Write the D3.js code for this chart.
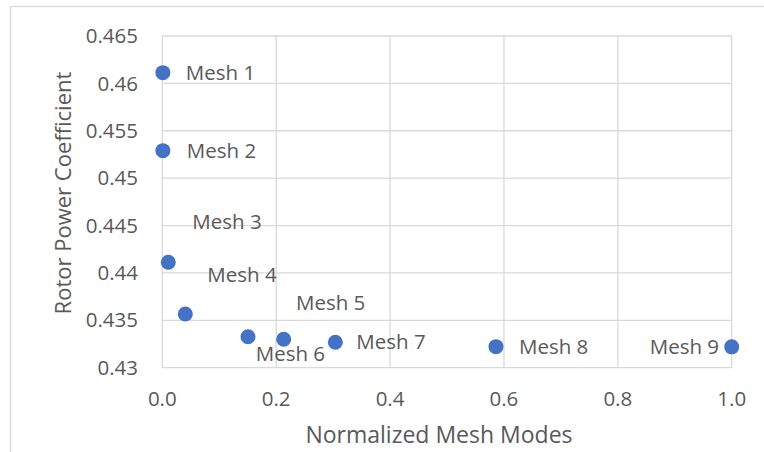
<!DOCTYPE html>
<html><head><meta charset="utf-8">
<script src="https://cdn.jsdelivr.net/npm/d3@7"></script>
<style>body{margin:0;background:#fff}svg{display:block}text{font-family:"Open Sans","Liberation Sans",Arial,sans-serif;fill:#595959}</style>
</head><body>
<script>
const labels = ["Mesh 1","Mesh 2","Mesh 3","Mesh 4","Mesh 5","Mesh 6","Mesh 7","Mesh 8","Mesh 9"];
const xValues = [0.001, 0.001, 0.0105, 0.0404, 0.1505, 0.2132, 0.3039, 0.586, 1.0];
const yValues = [0.46113, 0.4529, 0.44112, 0.43567, 0.43327, 0.4330, 0.43268, 0.43222, 0.43220];
const xTicks = [0, 0.2, 0.4, 0.6, 0.8, 1.0];
const yTicks = [0.43, 0.435, 0.44, 0.445, 0.45, 0.455, 0.46, 0.465];
// label offsets (Excel data label placement), in px relative to the point
const labelDx = [23, 24, 24, 22, 48, -28, 21, 23, -82];
const labelDy = [0, 0, -40, -39, -34, 15, 0, 0, 0];

const W = 764, H = 452;
const svg = d3.select("body").append("svg").attr("width", W).attr("height", H);
svg.append("rect").attr("x",10.5).attr("y",6.5).attr("width",W).attr("height",H)
  .attr("fill","none").attr("stroke","#d9d9d9").attr("stroke-width",1.3);

const x = d3.scaleLinear().domain([0,1]).range([162.3, 731.7]);
const y = d3.scaleLinear().domain([0.43,0.465]).range([367.7, 36]);

const g = svg.append("g");
g.selectAll("line.vg").data(xTicks).join("line").attr("class","vg")
  .attr("x1",d=>x(d)).attr("x2",d=>x(d)).attr("y1",y(0.465)).attr("y2",y(0.43))
  .attr("stroke","#d9d9d9").attr("stroke-width",1.3);
g.selectAll("line.hg").data(yTicks).join("line").attr("class","hg")
  .attr("x1",x(0)).attr("x2",x(1)).attr("y1",d=>y(d)).attr("y2",d=>y(d))
  .attr("stroke","#d9d9d9").attr("stroke-width",1.3);

const fmtY = d => String(+d.toFixed(3));
g.selectAll("text.yt").data(yTicks).join("text").attr("class","yt")
  .attr("x",138).attr("y",d=>y(d)).attr("dy","0.35em").attr("text-anchor","end")
  .attr("font-size",20.5).text(fmtY);
g.selectAll("text.xt").data(xTicks).join("text").attr("class","xt")
  .attr("x",d=>x(d)).attr("y",399).attr("dy","0.35em").attr("text-anchor","middle")
  .attr("font-size",20.5).text(d=>d.toFixed(1));

svg.append("text").attr("x",439).attr("y",435).attr("dy","0.35em").attr("text-anchor","middle")
  .attr("font-size",23).text("Normalized Mesh Modes");
svg.append("text").attr("transform","translate(63,193) rotate(-90)").attr("dy","0.35em")
  .attr("text-anchor","middle").attr("font-size",22).text("Rotor Power Coefficient");

const pts = labels.map((l,i)=>({l, x:xValues[i], y:yValues[i], dx:labelDx[i], dy:labelDy[i]}));
g.selectAll("circle").data(pts).join("circle")
  .attr("cx",d=>x(d.x)).attr("cy",d=>y(d.y)).attr("r",7.5).attr("fill","#4472C4");
g.selectAll("text.lbl").data(pts).join("text").attr("class","lbl")
  .attr("x",d=>x(d.x)+d.dx).attr("y",d=>y(d.y)+d.dy).attr("dy","0.35em")
  .attr("font-size",20.5).text(d=>d.l);
</script>
</body></html>
